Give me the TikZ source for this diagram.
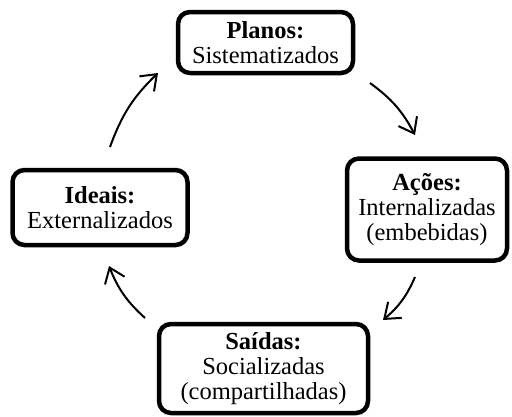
\documentclass[tikz,border=0pt]{standalone}
\usepackage{fontspec}
\setmainfont{Liberation Serif}
\usetikzlibrary{arrows.meta}
\tikzset{
  box/.style={draw=black, line width=4.5pt, rounded corners=12pt, fill=white, align=center, inner sep=0pt,
    font=\fontsize{24.5}{25}\selectfont},
  arr/.style={line width=2pt, -{Straight Barb[length=14pt,width=21pt,line width=2pt]}}
}
\begin{document}
\begin{tikzpicture}[x=1pt,y=-1pt]
\useasboundingbox (0,0) rectangle (512,416);
\node[box, minimum width=175pt, minimum height=61pt] (planos) at (265.5,42.5) {\textbf{Planos:}\\Sistematizados};
\node[box, minimum width=160pt, minimum height=102pt] (acoes) at (427,209.5) {\textbf{Ações:}\\Internalizadas\\(embebidas)};
\node[box, minimum width=209pt, minimum height=89pt] (saidas) at (263.5,368.5) {\textbf{Saídas:}\\Socializadas\\(compartilhadas)};
\node[box, minimum width=175pt, minimum height=75pt] (ideais) at (100,207.5) {\textbf{Ideais:}\\Externalizados};
\coordinate (a1s) at (110,147);
\coordinate (a1e) at (158,73);
\coordinate (a2s) at (370,83);
\coordinate (a2e) at (415,135);
\coordinate (a3s) at (415,277);
\coordinate (a3e) at (383,320);
\coordinate (a4s) at (145,318);
\coordinate (a4e) at (109,266);
\draw[arr] (a1s) to[bend left=13] (a1e);
\draw[arr] (a2s) to[bend left=13] (a2e);
\draw[arr] (a3s) to[bend left=13] (a3e);
\draw[arr] (a4s) to[bend left=13] (a4e);
\end{tikzpicture}
\end{document}
